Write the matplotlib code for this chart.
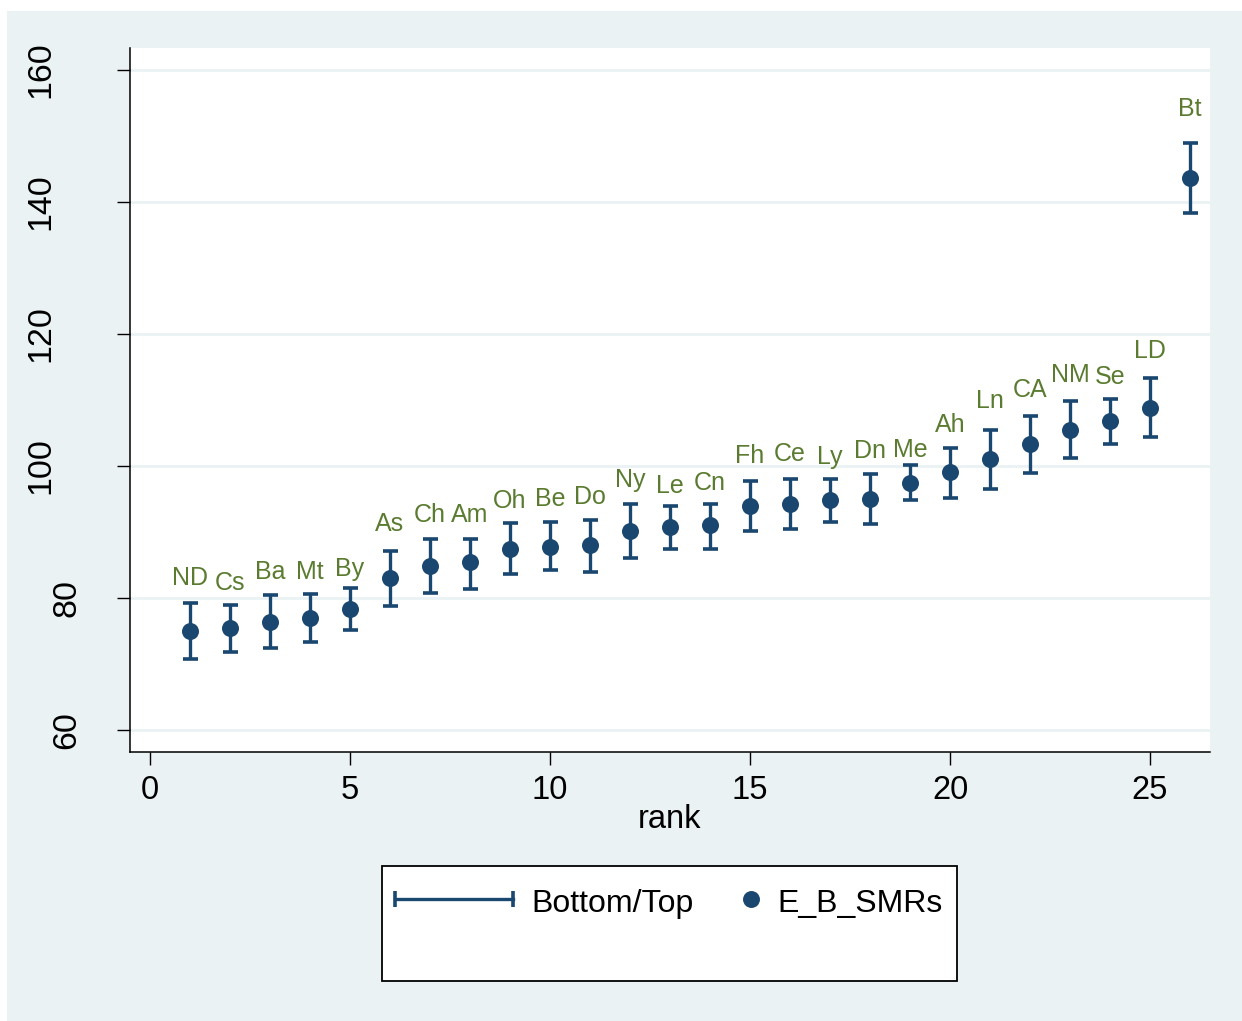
import matplotlib
matplotlib.use("Agg")
import matplotlib.pyplot as plt
from matplotlib.patches import Rectangle
from matplotlib.lines import Line2D
from matplotlib.transforms import ScaledTranslation

plt.rcParams['font.family'] = ['Liberation Sans', 'DejaVu Sans']

# --------------------------------------
# DATA
# --------------------------------------
rank = list(range(1, 27))
areas = ["ND", "Cs", "Ba", "Mt", "By", "As", "Ch", "Am", "Oh", "Be", "Do", "Ny", "Le",
         "Cn", "Fh", "Ce", "Ly", "Dn", "Me", "Ah", "Ln", "CA", "NM", "Se", "LD", "Bt"]
smr = [75.0, 75.5, 76.4, 77.0, 78.4, 83.0, 84.9, 85.4, 87.5, 87.8, 88.0, 90.2, 90.7,
       91.0, 93.9, 94.3, 94.8, 95.0, 97.5, 99.1, 101.0, 103.3, 105.4, 106.8, 108.8, 143.6]
top = [79.3, 79.0, 80.4, 80.7, 81.6, 87.2, 88.9, 89.0, 91.3, 91.5, 91.9, 94.3, 94.0,
       94.2, 97.8, 98.1, 98.1, 98.8, 100.1, 102.7, 105.4, 107.6, 109.8, 110.2, 113.3, 148.9]
bottom = [70.8, 71.9, 72.5, 73.4, 75.2, 78.8, 80.8, 81.4, 83.7, 84.2, 83.9, 86.0, 87.5,
          87.5, 90.1, 90.5, 91.5, 91.2, 94.8, 95.1, 96.5, 98.9, 101.2, 103.3, 104.4, 138.3]
# height (data units) of each area label's baseline
label_y = [82.0, 81.3, 82.9, 82.9, 83.4, 90.1, 91.6, 91.5, 93.7, 93.9, 94.3, 96.9, 95.9,
           96.3, 100.4, 100.7, 100.3, 101.2, 101.3, 105.2, 108.8, 110.5, 112.7, 112.4, 116.4, 153.0]

xticks = [0, 5, 10, 15, 20, 25]
yticks = [60, 80, 100, 120, 140, 160]

NAVY = "#1a476f"
GREEN = "#5a7b30"
BG = "#eaf2f3"
W, H = 1242, 1021

fig = plt.figure(figsize=(W / 100, H / 100), dpi=100)
fig.patches.append(Rectangle((7 / W, 0), 1 - 7 / W, 1 - 11 / H,
                             transform=fig.transFigure, facecolor=BG,
                             edgecolor="none", zorder=-10))

ax = fig.add_axes([130 / W, 1 - 752 / H, (1210 - 130) / W, (752 - 48) / H])
ax.set_facecolor("white")

# --------------------------------------
# ERROR BARS + POINTS
# --------------------------------------
yerr = [[s - b for s, b in zip(smr, bottom)], [t - s for t, s in zip(top, smr)]]
ax.errorbar(rank, smr, yerr=yerr, fmt="none", ecolor=NAVY, elinewidth=2.4,
            capsize=5.4, capthick=2.6, zorder=3)
ax.scatter(rank, smr, s=150, color=NAVY, zorder=4, linewidths=0)

for x, y, name in zip(rank, label_y, areas):
    ax.text(x, y, name, ha="center", va="baseline", color=GREEN, fontsize=18)

ax.set_xlim(-0.5, 26.5)
ax.set_ylim(56.7, 163.3)
ax.set_xticks(xticks)
ax.set_yticks(yticks)
ax.grid(axis="y", color=BG, linewidth=2)
ax.set_axisbelow(True)
for side in ("top", "right"):
    ax.spines[side].set_visible(False)
for side in ("left", "bottom"):
    ax.spines[side].set_linewidth(1.1)
ax.tick_params(axis="both", length=9.4, width=1)
ax.tick_params(axis="x", pad=7, labelsize=23.5)
ax.tick_params(axis="y", labelleft=False)
ax.set_xlabel("rank", fontsize=23.5, labelpad=-1.5)

# Stata right-justifies the rotated y labels before turning them,
# so the 3-digit ones sit further from the axis than the 2-digit ones
for v in yticks:
    shift = -89 if len(str(v)) == 3 else -63
    tr = ax.get_yaxis_transform() + ScaledTranslation(shift / 100, 0, fig.dpi_scale_trans)
    ax.text(0, v, str(v), rotation=90, ha="center", va="center",
            fontsize=24.5, transform=tr, clip_on=False)

# --------------------------------------
# LEGEND (Stata-style box)
# --------------------------------------
def fx(px):
    return px / W

def fy(py):
    return 1 - py / H

fig.patches.append(Rectangle((fx(382), fy(981)), fx(957) - fx(382), fy(866) - fy(981),
                             transform=fig.transFigure, facecolor="white",
                             edgecolor="black", linewidth=1.3))
fig.add_artist(Line2D([fx(395), fx(513)], [fy(899), fy(899)], color=NAVY, lw=2.4,
                      marker="|", markersize=12, markeredgewidth=2.6,
                      transform=fig.transFigure))
fig.add_artist(Line2D([fx(751)], [fy(899)], color=NAVY, marker="o", markersize=12.2,
                      markeredgewidth=0, linestyle="none", transform=fig.transFigure))
fig.text(fx(531), fy(900), "Bottom/Top", fontsize=23, va="center_baseline", ha="left")
fig.text(fx(777), fy(900), "E_B_SMRs", fontsize=23, va="center_baseline", ha="left")

fig.savefig("out.png", dpi=100)
